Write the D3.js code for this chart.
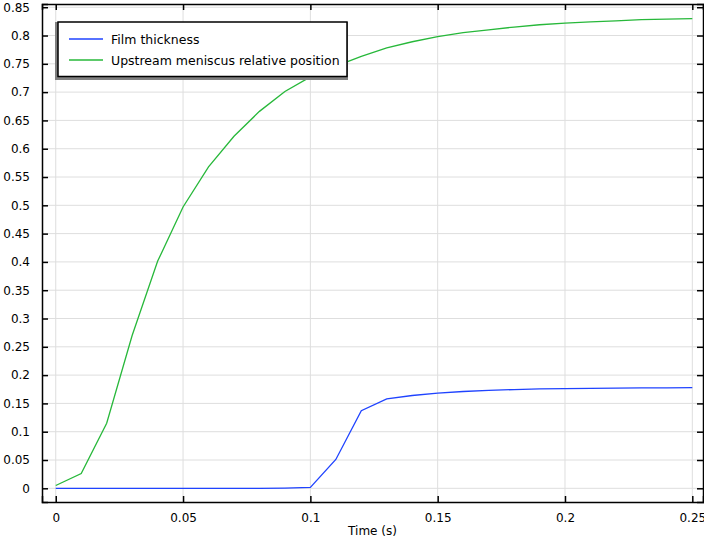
<!DOCTYPE html>
<html>
<head>
<meta charset="utf-8">
<script src="https://cdn.jsdelivr.net/npm/d3@7"></script>
<style>
  body { margin: 0; background: #fff; }
  text { font-family: "DejaVu Sans", sans-serif; }
</style>
</head>
<body>
<svg id="chart" width="704" height="542"></svg>
<script>
const times = [0, 0.01, 0.02, 0.03, 0.04, 0.05, 0.06, 0.07, 0.08, 0.09, 0.1, 0.11, 0.12,
  0.13, 0.14, 0.15, 0.16, 0.17, 0.18, 0.19, 0.2, 0.21, 0.22, 0.23, 0.24, 0.25];
const filmThickness = [0, 0, 0, 0, 0, 0, 0, 0, 0, 0.0004, 0.0015, 0.051, 0.137,
  0.158, 0.164, 0.168, 0.171, 0.173, 0.1745, 0.1755, 0.176, 0.1765, 0.177, 0.1773, 0.1776, 0.178];
const meniscusPos = [0.005, 0.026, 0.115, 0.27, 0.401, 0.497, 0.568, 0.622, 0.666, 0.701, 0.727,
  0.746, 0.763, 0.778, 0.789, 0.798, 0.805, 0.810, 0.815, 0.819, 0.822, 0.824, 0.826, 0.828, 0.829, 0.830];
const seriesNames = ['Film thickness', 'Upstream meniscus relative position'];
const seriesColors = ['#1f43ff', '#27b83a'];
const xTicks = [0, 0.05, 0.1, 0.15, 0.2, 0.25];
const yTicks = d3.range(0, 18).map(i => +(i * 0.05).toFixed(2));

const margin = { top: 4, right: 1, bottom: 40, left: 42 };
const width = 704 - margin.left - margin.right;
const height = 542 - margin.top - margin.bottom;

const svg = d3.select('#chart');
const chart = svg.append('g')
  .attr('transform', `translate(${margin.left},${margin.top})`);

const x = d3.scaleLinear().domain([-0.0054, 0.2542]).range([0, width]);
const y = d3.scaleLinear().domain([-0.0242, 0.8557]).range([height, 0]);

// grid
chart.append('g').selectAll('line').data(xTicks).join('line')
  .attr('x1', d => x(d)).attr('x2', d => x(d))
  .attr('y1', 0).attr('y2', height)
  .attr('stroke', '#dedede');
chart.append('g').selectAll('line').data(yTicks).join('line')
  .attr('y1', d => y(d)).attr('y2', d => y(d))
  .attr('x1', 0).attr('x2', width)
  .attr('stroke', '#dedede');

// lines
const line = d3.line().x(d => x(d[0])).y(d => y(d[1]));
[filmThickness, meniscusPos].forEach((vals, i) => {
  chart.append('path')
    .datum(times.map((t, j) => [t, vals[j]]))
    .attr('fill', 'none')
    .attr('stroke', seriesColors[i])
    .attr('stroke-width', 1.3)
    .attr('d', line);
});

// axes with inward ticks
const fmt = d => d3.format('~g')(d);
const xAxis = chart.append('g')
  .attr('transform', `translate(0,${height})`)
  .call(d3.axisBottom(x).tickValues(xTicks).tickSize(-6).tickPadding(11).tickFormat(fmt));
const xTop = chart.append('g')
  .call(d3.axisTop(x).tickValues(xTicks).tickSize(-6).tickFormat(''));
const yAxis = chart.append('g')
  .call(d3.axisLeft(y).tickValues(yTicks).tickSize(-6).tickPadding(12).tickFormat(fmt));
const yRight = chart.append('g')
  .attr('transform', `translate(${width},0)`)
  .call(d3.axisRight(y).tickValues(yTicks).tickSize(-6).tickFormat(''));

[xAxis, xTop, yAxis, yRight].forEach(a => {
  a.select('.domain').attr('stroke', '#000').attr('stroke-width', 1.5);
  a.selectAll('.tick line').attr('stroke', '#000').attr('stroke-width', 1.5);
  a.selectAll('text').attr('font-size', 12).attr('fill', '#000')
    .attr('font-family', '"DejaVu Sans", sans-serif');
});

chart.append('text')
  .attr('x', width / 2)
  .attr('y', height + 33)
  .attr('text-anchor', 'middle')
  .attr('font-size', 12)
  .text('Time (s)');

// legend
const legend = chart.append('g').attr('transform', 'translate(16,18)');
legend.append('rect')
  .attr('x', -3).attr('y', 0).attr('width', 293).attr('height', 58)
  .attr('fill', '#808080');
legend.append('rect')
  .attr('x', 0).attr('y', 0).attr('width', 289).attr('height', 54.5)
  .attr('fill', '#fff').attr('stroke', '#000').attr('stroke-width', 1.5);
seriesNames.forEach((name, i) => {
  const yy = 17 + i * 21;
  legend.append('line')
    .attr('x1', 11).attr('x2', 45).attr('y1', yy).attr('y2', yy)
    .attr('stroke', seriesColors[i]).attr('stroke-width', 1.3);
  legend.append('text')
    .attr('x', 53).attr('y', yy + 4.5)
    .attr('font-size', 12.5)
    .text(name);
});
</script>
</body>
</html>
